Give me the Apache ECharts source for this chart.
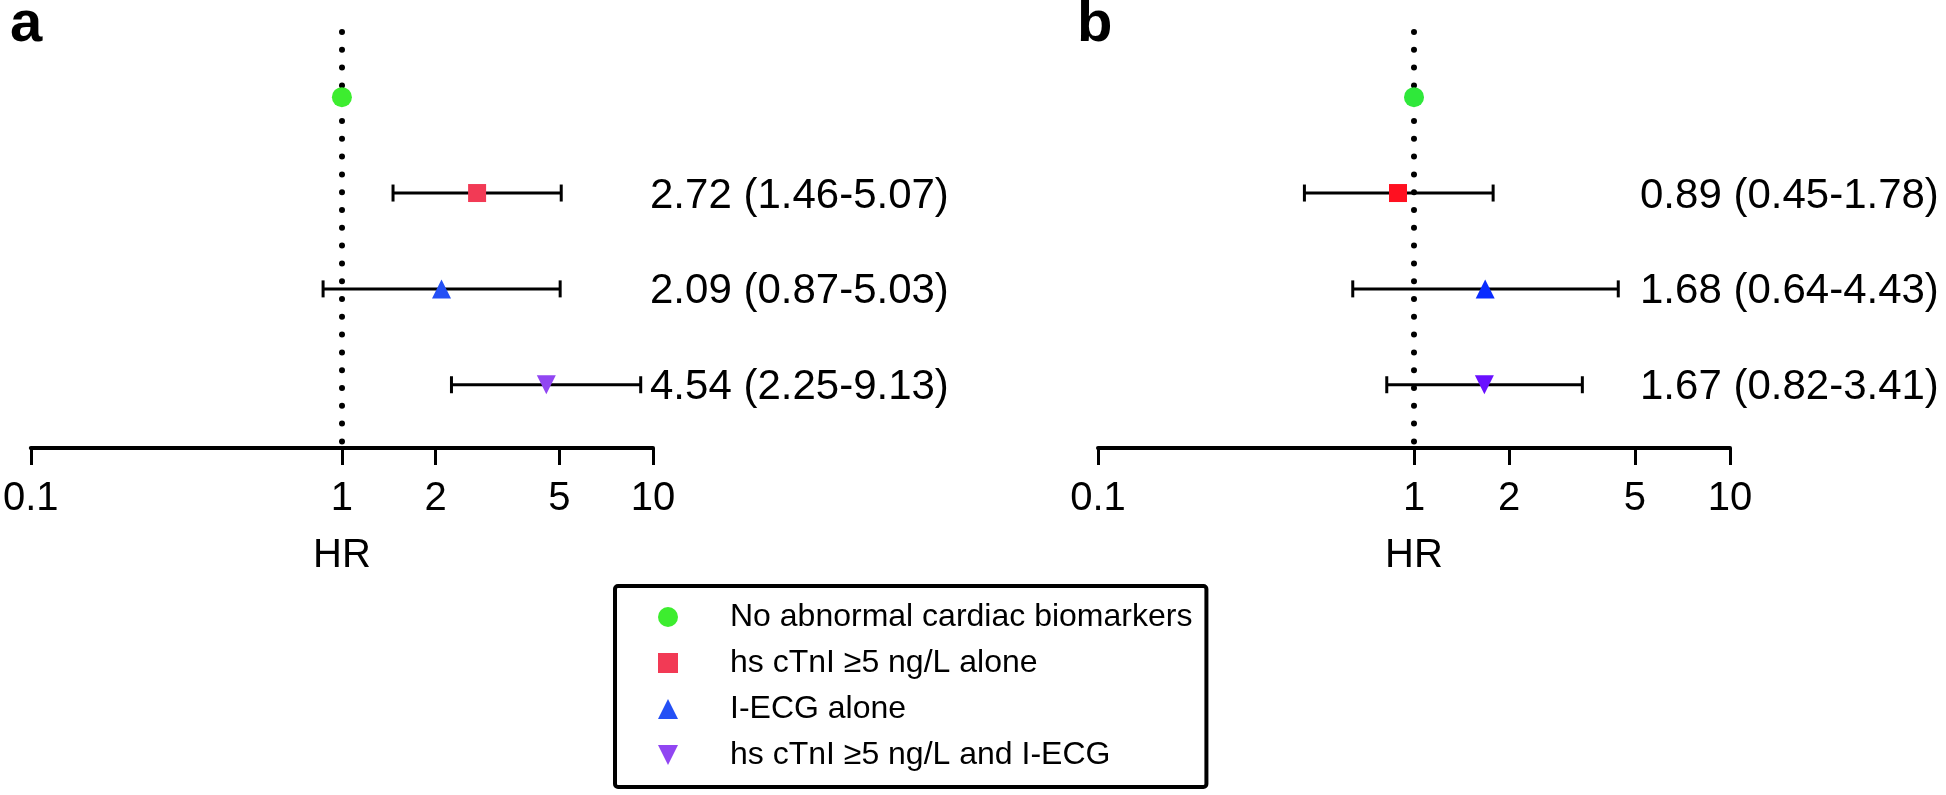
<!DOCTYPE html>
<html lang="en">
<head>
    <meta charset="UTF-8">
    <title>HR forest plot</title>
    <style>
        html, body { margin: 0; padding: 0; background: #fff; }
        #chart { width: 1946px; height: 795px; }
    </style>
</head>
<body>
    <div id="chart"></div>
    <script src="https://cdn.jsdelivr.net/npm/echarts@6/dist/echarts.min.js"></script>
    <script>
        var groups = ['No abnormal cardiac biomarkers', 'hs cTnI \u22655 ng/L alone', 'I-ECG alone', 'hs cTnI \u22655 ng/L and I-ECG'];
        var xTicks = [0.1, 1, 2, 5, 10];

        // panel a
        var hrA = [1, 2.72, 2.09, 4.54];
        var loA = [null, 1.46, 0.87, 2.25];
        var hiA = [null, 5.07, 5.03, 9.13];

        // panel b
        var hrB = [1, 0.89, 1.68, 1.67];
        var loB = [null, 0.45, 0.64, 0.82];
        var hiB = [null, 1.78, 4.43, 3.41];

        var colorsA = ['#3ded2f', '#f23a55', '#2450f5', '#9146f2'];
        var colorsB = ['#2fe83a', '#ff1020', '#0a2cff', '#6a10ff'];
        var symbols = ['circle', 'rect', 'triangle', 'triangle'];
        var rotates = [0, 0, 0, 180];
        var sizes = [20, 18, [19, 19], [19, 19]];
        // legend icons (down triangle has to be drawn as a path, rotation is not inherited)
        var legendIcons = ['circle', 'rect', 'triangle', 'path://M0,0 L10,0 L5,10 Z'];

        var font = '"Liberation Sans", Arial, sans-serif';
        var myChart = echarts.init(document.getElementById('chart'));

        function fmt(v) { return v.toFixed(2); }

        function markers(hr, colors, idx) {
            return groups.map(function (name, i) {
                var s = {
                    type: 'scatter',
                    name: name,
                    xAxisIndex: idx,
                    yAxisIndex: idx,
                    data: [[hr[i], i]],
                    symbol: symbols[i],
                    symbolSize: sizes[i],
                    symbolRotate: rotates[i],
                    itemStyle: { color: colors[i], opacity: 1 },
                    z: 5
                };
                if (i == 0) {
                    // dotted reference line at HR = 1
                    s.markLine = {
                        silent: true,
                        symbol: ['none', 'none'],
                        label: { show: false },
                        lineStyle: { color: '#000', width: 6, type: [0, 17.8], cap: 'round' },
                        data: [{ xAxis: 1 }],
                        z: 1
                    };
                }
                return s;
            });
        }

        function errorBars(lo, hi, idx) {
            var data = [];
            for (var i = 0; i < lo.length; i++) {
                if (lo[i] != null) data.push([lo[i], hi[i], i]);
            }
            return {
                type: 'custom',
                xAxisIndex: idx,
                yAxisIndex: idx,
                data: data,
                encode: { x: [0, 1], y: 2 },
                z: 3,
                renderItem: function (params, api) {
                    var p1 = api.coord([api.value(0), api.value(2)]);
                    var p2 = api.coord([api.value(1), api.value(2)]);
                    var h = 8.5;
                    var st = { stroke: '#000', lineWidth: 3 };
                    return {
                        type: 'group',
                        children: [
                            { type: 'line', shape: { x1: p1[0], y1: p1[1], x2: p2[0], y2: p2[1] }, style: st },
                            { type: 'line', shape: { x1: p1[0], y1: p1[1] - h, x2: p1[0], y2: p1[1] + h }, style: st },
                            { type: 'line', shape: { x1: p2[0], y1: p2[1] - h, x2: p2[0], y2: p2[1] + h }, style: st }
                        ]
                    };
                }
            };
        }

        function ciLabels(hr, lo, hi, idx, dx) {
            var data = [];
            var texts = [];
            for (var i = 0; i < hr.length; i++) {
                if (lo[i] != null) {
                    data.push([hr[i], i]);
                    texts.push(fmt(hr[i]) + ' (' + fmt(lo[i]) + '-' + fmt(hi[i]) + ')');
                }
            }
            return {
                type: 'custom',
                xAxisIndex: idx,
                yAxisIndex: idx,
                data: data,
                encode: { x: 0, y: 1 },
                clip: false,
                z: 4,
                renderItem: function (params, api) {
                    var p = api.coord([10, api.value(1)]);
                    return {
                        type: 'text',
                        x: p[0] + dx,
                        y: p[1] + 3,
                        style: {
                            text: texts[params.dataIndex],
                            fill: '#000',
                            font: '42px ' + font,
                            align: 'left',
                            verticalAlign: 'middle'
                        }
                    };
                }
            };
        }

        function xAxisFor(idx) {
            return {
                type: 'log',
                logBase: 10,
                gridIndex: idx,
                min: 0.1,
                max: 10,
                name: 'HR',
                nameLocation: 'middle',
                nameGap: 88,
                nameTextStyle: { fontSize: 40, color: '#000', fontFamily: font },
                axisLine: { show: true, onZero: false, lineStyle: { color: '#000', width: 4 } },
                axisTick: { show: true, customValues: xTicks, length: 17, lineStyle: { color: '#000', width: 3 } },
                axisLabel: {
                    customValues: xTicks,
                    fontSize: 40,
                    color: '#000',
                    fontFamily: font,
                    margin: 31,
                    formatter: function (v) { return String(v); }
                },
                minorTick: { show: false },
                splitLine: { show: false }
            };
        }

        function yAxisFor(idx) {
            return { type: 'value', gridIndex: idx, min: -0.68, max: 3.66, inverse: true, show: false };
        }

        var option = {
            animation: false,
            backgroundColor: '#fff',
            textStyle: { fontFamily: font },
            grid: [
                { left: 27, top: 32, width: 626, height: 416 },
                { left: 1098, top: 32, width: 632, height: 416 }
            ],
            xAxis: [xAxisFor(0), xAxisFor(1)],
            yAxis: [yAxisFor(0), yAxisFor(1)],
            legend: {
                data: groups.map(function (g, i) { return { name: g, icon: legendIcons[i] }; }),
                orient: 'vertical',
                left: 615,
                top: 586,
                itemWidth: 20,
                itemHeight: 20,
                itemGap: 14,
                padding: [15, 14, 16, 43],
                borderColor: '#000',
                borderWidth: 4,
                borderRadius: 3,
                selectedMode: false,
                textStyle: { fontSize: 32, lineHeight: 30, color: '#000', fontFamily: font, padding: [0, 0, 0, 47] }
            },
            graphic: [
                { type: 'text', left: 10, top: -4, style: { text: 'a', font: 'bold 58px ' + font, fill: '#000' } },
                { type: 'text', left: 1077, top: -4, style: { text: 'b', font: 'bold 58px ' + font, fill: '#000' } }
            ],
            series: [].concat(
                [errorBars(loA, hiA, 0), errorBars(loB, hiB, 1)],
                markers(hrA, colorsA, 0),
                markers(hrB, colorsB, 1),
                [ciLabels(hrA, loA, hiA, 0, -3), ciLabels(hrB, loB, hiB, 1, -90)]
            )
        };
        myChart.setOption(option);
    </script>
</body>
</html>
